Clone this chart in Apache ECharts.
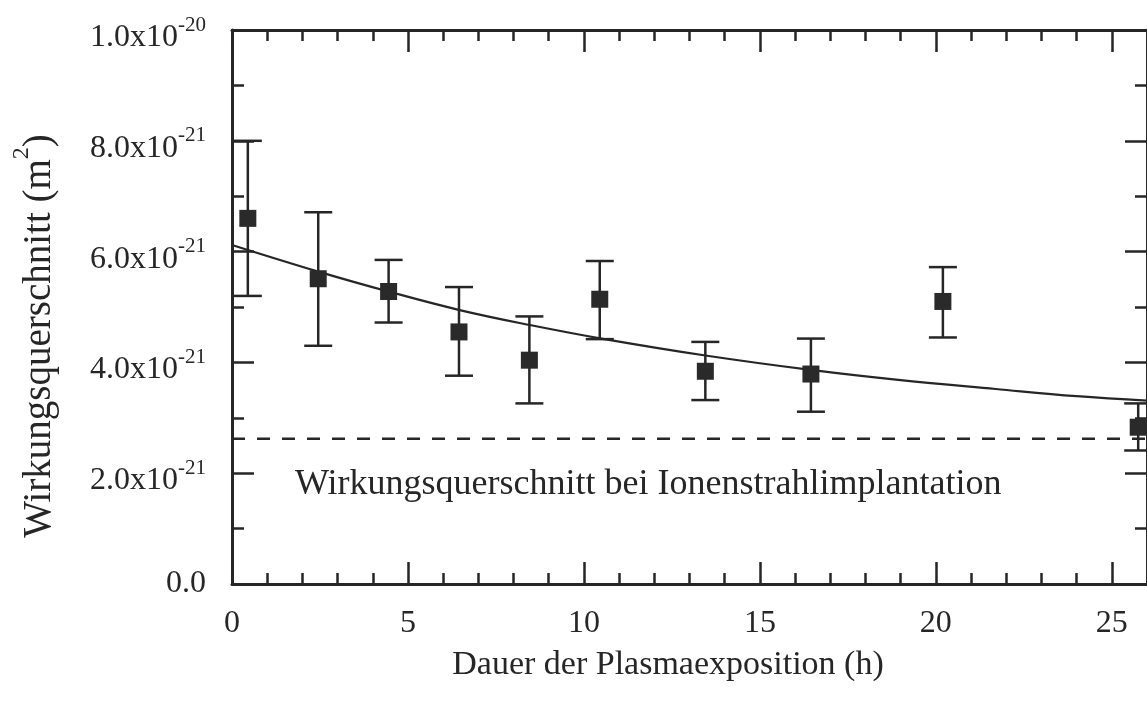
<!DOCTYPE html>
<html>
<head>
<meta charset="utf-8">
<script src="https://cdn.jsdelivr.net/npm/echarts@6/dist/echarts.min.js"></script>
<style>
  html, body { margin: 0; padding: 0; background: #ffffff; }
  #chart { width: 1147px; height: 704px; }
</style>
</head>
<body>
<div id="chart"></div>
<script>
// Measured cross sections (values in units of 1e-21 m²)
const hours     = [0.45, 2.45, 4.45, 6.45, 8.45, 10.45, 13.45, 16.45, 20.2, 25.75];
const sigma     = [6.60, 5.51, 5.28, 4.55, 4.04, 5.14, 3.84, 3.79, 5.10, 2.83];
const sigmaLow  = [5.20, 4.30, 4.72, 3.76, 3.26, 4.42, 3.32, 3.11, 4.45, 2.41];
const sigmaHigh = [8.00, 6.71, 5.85, 5.36, 4.83, 5.83, 4.37, 4.43, 5.72, 3.26];

// Fitted decay curve
const fitHours = [0, 2.5, 4.5, 6.5, 8.5, 10.5, 13.5, 16.5, 19, 21.7, 24, 26];
const fitSigma = [6.12, 5.63, 5.27, 4.94, 4.67, 4.43, 4.12, 3.86, 3.68, 3.52, 3.39, 3.31];

// Cross section level for ion beam implantation
const implantHours = [0, 26];
const implantSigma = [2.62, 2.62];

// Axis ranges and tick steps
const xRange = [0, 26];
const xStep = 5;
const yRange = [0, 10];
const yStep = 2;

const INK = '#262626';
const SERIF = '"Liberation Serif", "DejaVu Serif", serif';

function yTickLabel(v) {
  if (v === 0) return '{z|0.0}';
  if (v === 10) return '{m|1.0x10}{e|-20}';
  return '{m|' + v.toFixed(1) + 'x10}{e|-21}';
}

function xAxisDef(pos, showLabels) {
  return {
    type: 'value', position: pos, min: xRange[0], max: xRange[1], interval: xStep,
    axisLine: { show: true, onZero: false, lineStyle: { color: INK, width: 3 } },
    axisTick: { show: true, inside: true, length: 22, lineStyle: { color: INK, width: 2.5 } },
    minorTick: { show: true, splitNumber: 5, length: 11, lineStyle: { color: INK, width: 2.5 } },
    splitLine: { show: false },
    axisLabel: {
      show: showLabels, margin: 24, color: INK, fontFamily: SERIF, fontSize: 32,
      showMaxLabel: false,
      formatter: v => (v % xStep === 0 ? String(v) : '')
    }
  };
}

function yAxisDef(pos, showLabels) {
  return {
    type: 'value', position: pos, min: yRange[0], max: yRange[1], interval: yStep,
    axisLine: { show: true, onZero: false, lineStyle: { color: INK, width: 3 } },
    axisTick: { show: true, inside: true, length: 22, lineStyle: { color: INK, width: 2.5 } },
    minorTick: { show: true, splitNumber: 2, length: 12, lineStyle: { color: INK, width: 2.5 } },
    splitLine: { show: false },
    axisLabel: {
      show: showLabels, margin: 26, color: INK, fontFamily: SERIF,
      padding: [15, 0, 0, 0],
      formatter: yTickLabel,
      rich: {
        m: { fontSize: 32, fontFamily: SERIF, color: INK, lineHeight: 46 },
        z: { fontSize: 32, fontFamily: SERIF, color: INK, lineHeight: 36, padding: [0, 0, 15, 0] },
        e: { fontSize: 21, fontFamily: SERIF, color: INK, verticalAlign: 'top', lineHeight: 21 }
      }
    }
  };
}

const points = hours.map((h, i) => [h, sigma[i]]);
const bars = hours.map((h, i) => [h, sigmaLow[i], sigmaHigh[i]]);
const fitLine = fitHours.map((h, i) => [h, fitSigma[i]]);
const implantLine = implantHours.map((h, i) => [h, implantSigma[i]]);

const chart = echarts.init(document.getElementById('chart'), null, { renderer: 'canvas' });

chart.setOption({
  backgroundColor: '#ffffff',
  animation: false,
  grid: { left: 232, top: 30, width: 917, height: 554, containLabel: false },
  xAxis: [xAxisDef('bottom', true), xAxisDef('top', false)],
  yAxis: [yAxisDef('left', true), yAxisDef('right', false)],
  series: [
    {
      type: 'line', data: implantLine, xAxisIndex: 0, yAxisIndex: 0,
      symbol: 'none', silent: true,
      lineStyle: { color: INK, width: 2.5, type: [13, 12] }, z: 2
    },
    {
      type: 'line', data: fitLine, xAxisIndex: 0, yAxisIndex: 0,
      symbol: 'none', smooth: 0.4, silent: true,
      lineStyle: { color: INK, width: 2.2 }, z: 3
    },
    {
      // error bars with end caps
      type: 'custom', data: bars, xAxisIndex: 0, yAxisIndex: 0, z: 4,
      renderItem: (params, api) => {
        const x = api.value(0);
        const lo = api.coord([x, api.value(1)]);
        const hi = api.coord([x, api.value(2)]);
        const cap = 14;
        const style = { stroke: INK, lineWidth: 2.5 };
        return {
          type: 'group',
          children: [
            { type: 'line', shape: { x1: lo[0], y1: lo[1], x2: hi[0], y2: hi[1] }, style },
            { type: 'line', shape: { x1: lo[0] - cap, y1: lo[1], x2: lo[0] + cap, y2: lo[1] }, style },
            { type: 'line', shape: { x1: hi[0] - cap, y1: hi[1], x2: hi[0] + cap, y2: hi[1] }, style }
          ]
        };
      }
    },
    {
      type: 'scatter', data: points, xAxisIndex: 0, yAxisIndex: 0, z: 5,
      symbol: 'rect', symbolSize: 17,
      itemStyle: { color: '#2a2a2a', opacity: 1 }
    }
  ],
  graphic: [
    {
      type: 'text', left: 295, top: 467,
      style: {
        text: 'Wirkungsquerschnitt bei Ionenstrahlimplantation',
        font: '36px ' + SERIF, fill: INK
      }
    },
    {
      type: 'text', x: 668, y: 665,
      style: {
        text: 'Dauer der Plasmaexposition (h)',
        font: '34px ' + SERIF, fill: INK, align: 'center', verticalAlign: 'middle'
      }
    },
    {
      type: 'text', x: 40, y: 336, rotation: Math.PI / 2,
      style: {
        text: '{m|Wirkungsquerschnitt (m}{e|2}{m|)}',
        align: 'center', verticalAlign: 'middle',
        rich: {
          m: { fontSize: 39, fontFamily: SERIF, fill: INK, lineHeight: 60 },
          e: { fontSize: 24, fontFamily: SERIF, fill: INK, verticalAlign: 'top', lineHeight: 24 }
        }
      }
    }
  ]
});
</script>
</body>
</html>
